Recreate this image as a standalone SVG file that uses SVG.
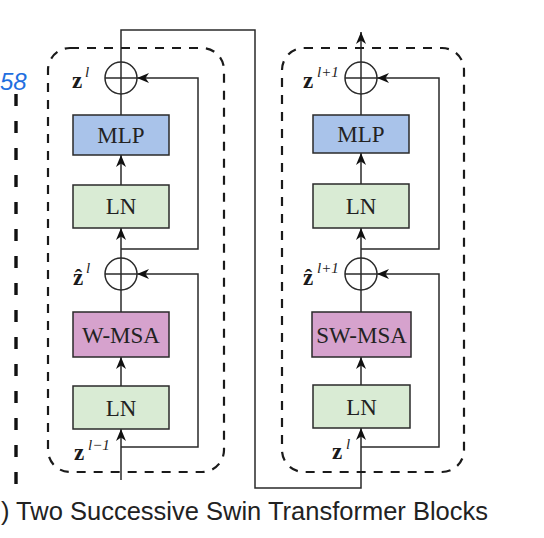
<svg xmlns="http://www.w3.org/2000/svg" width="544" height="538" viewBox="0 0 544 538">
<style>
.ln{fill:none;stroke:#2a2a2a;stroke-width:1.5}
.dash{fill:none;stroke:#1a1a1a;stroke-width:2.2;stroke-dasharray:9 8}
.box{stroke:#2a2a2a;stroke-width:1.5}
.mlp{fill:#a9c3ea}
.lnb{fill:#d9ebd4}
.msa{fill:#d6a2cd}
.bt{font-family:"Liberation Serif","Times New Roman",serif;font-size:23px;fill:#222;text-anchor:middle}
.z{font-family:"Liberation Serif","DejaVu Serif",serif;font-size:23px;font-weight:bold;fill:#1a1a1a}
.sup{font-family:"Liberation Serif","DejaVu Serif",serif;font-size:15px;font-style:italic;fill:#222}
.cap{font-family:"Liberation Sans",Arial,sans-serif;font-size:25px;fill:#222}
</style>
<defs>
<marker id="ah" viewBox="0 0 12 10" refX="12" refY="5" markerWidth="12" markerHeight="10" markerUnits="userSpaceOnUse" orient="auto">
<path d="M0,0 L12,5 L0,10 L3.5,5 z" fill="#111"/>
</marker>
</defs>
<rect width="544" height="538" fill="#ffffff"/>
<text x="0" y="90" font-family="Liberation Sans,sans-serif" font-size="24" font-style="italic" fill="#1f6fe0">58</text>
<line x1="16" y1="94" x2="16" y2="488" stroke="#111" stroke-width="3.4" stroke-dasharray="12 15"/>
<g id="connectors">
<line class="ln" x1="121" y1="480" x2="121" y2="429" marker-end="url(#ah)"/>
<line class="ln" x1="121" y1="386" x2="121" y2="357" marker-end="url(#ah)"/>
<line class="ln" x1="121" y1="312" x2="121" y2="290"/>
<line class="ln" x1="121" y1="258" x2="121" y2="228" marker-end="url(#ah)"/>
<line class="ln" x1="121" y1="185" x2="121" y2="155" marker-end="url(#ah)"/>
<line class="ln" x1="121" y1="115" x2="121" y2="94"/>
<polyline class="ln" points="121,62 121,30 255,30 255,488 361,488 361,428" marker-end="url(#ah)"/>
<polyline class="ln" points="121,447 198,447 198,274 137,274" marker-end="url(#ah)"/>
<polyline class="ln" points="121,249 198,249 198,78 137,78" marker-end="url(#ah)"/>
<line class="ln" x1="361" y1="385" x2="361" y2="357" marker-end="url(#ah)"/>
<line class="ln" x1="361" y1="312" x2="361" y2="290"/>
<line class="ln" x1="361" y1="258" x2="361" y2="228" marker-end="url(#ah)"/>
<line class="ln" x1="361" y1="184" x2="361" y2="153" marker-end="url(#ah)"/>
<line class="ln" x1="361" y1="115" x2="361" y2="94"/>
<line class="ln" x1="361" y1="62" x2="361" y2="32" marker-end="url(#ah)"/>
<polyline class="ln" points="361,447 439,447 439,274 377,274" marker-end="url(#ah)"/>
<polyline class="ln" points="361,249 439,249 439,78 377,78" marker-end="url(#ah)"/>
</g>
<g id="block1">
<rect class="dash" x="48" y="48" width="176" height="424" rx="22"/>
</g>
<g id="block2">
<rect class="dash" x="282" y="48" width="182" height="424" rx="22"/>
</g>
<g id="add1">
<circle class="ln" cx="121" cy="78" r="16"/>
<line class="ln" x1="105" y1="78" x2="137" y2="78"/>
<line class="ln" x1="121" y1="62" x2="121" y2="94"/>
<text class="z" x="72" y="88">z</text><text class="sup" x="85" y="77">l</text>
</g>
<g id="mlp1">
<rect class="box mlp" x="73" y="115" width="96" height="40"/>
<text class="bt" x="121" y="143">MLP</text>
</g>
<g id="ln2">
<rect class="box lnb" x="73" y="185" width="96" height="43"/>
<text class="bt" x="121" y="214">LN</text>
</g>
<g id="add0">
<circle class="ln" cx="121" cy="274" r="16"/>
<line class="ln" x1="105" y1="274" x2="137" y2="274"/>
<line class="ln" x1="121" y1="258" x2="121" y2="290"/>
<text class="z" x="73" y="285">ẑ</text><text class="sup" x="86" y="273">l</text>
</g>
<g id="wmsa">
<rect class="box msa" x="73" y="312" width="96" height="45"/>
<text class="bt" x="121" y="343">W-MSA</text>
</g>
<g id="ln1">
<rect class="box lnb" x="73" y="386" width="96" height="43"/>
<text class="bt" x="121" y="416">LN</text>
<text class="z" x="74" y="460">z</text><text class="sup" x="88" y="450">l−1</text>
</g>
<g id="add3">
<circle class="ln" cx="361" cy="78" r="16"/>
<line class="ln" x1="345" y1="78" x2="377" y2="78"/>
<line class="ln" x1="361" y1="62" x2="361" y2="94"/>
<text class="z" x="303" y="88">z</text><text class="sup" x="317" y="77">l+1</text>
</g>
<g id="mlp2">
<rect class="box mlp" x="313" y="115" width="96" height="38"/>
<text class="bt" x="361" y="142">MLP</text>
</g>
<g id="ln4">
<rect class="box lnb" x="313" y="184" width="96" height="44"/>
<text class="bt" x="361" y="214">LN</text>
</g>
<g id="add2">
<circle class="ln" cx="361" cy="274" r="16"/>
<line class="ln" x1="345" y1="274" x2="377" y2="274"/>
<line class="ln" x1="361" y1="258" x2="361" y2="290"/>
<text class="z" x="303" y="285">ẑ</text><text class="sup" x="317" y="273">l+1</text>
</g>
<g id="swmsa">
<rect class="box msa" x="312" y="312" width="99" height="45"/>
<text class="bt" x="361.5" y="343">SW-MSA</text>
</g>
<g id="ln3">
<rect class="box lnb" x="313" y="385" width="97" height="43"/>
<text class="bt" x="361.5" y="415">LN</text>
<text class="z" x="332" y="459">z</text><text class="sup" x="346" y="449">l</text>
</g>
<text class="cap" x="1" y="520" textLength="487" lengthAdjust="spacingAndGlyphs">) Two Successive Swin Transformer Blocks</text>
</svg>
